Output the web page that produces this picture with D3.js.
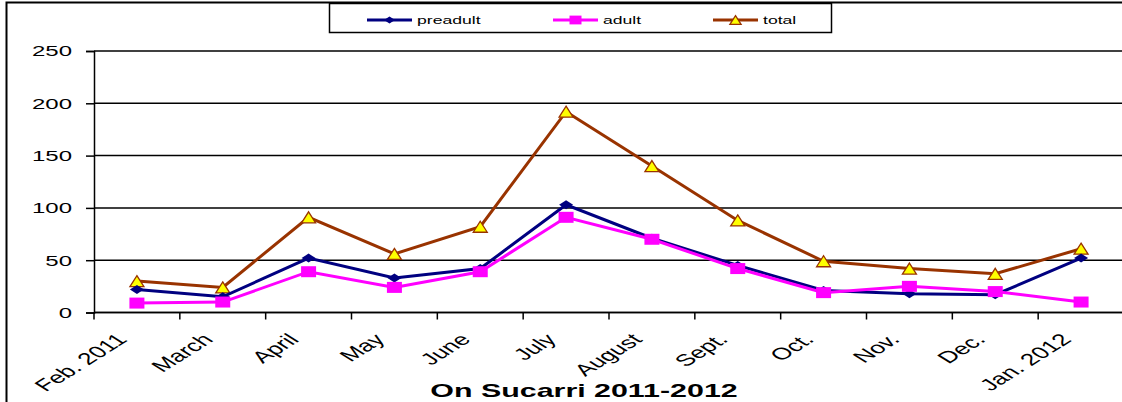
<!DOCTYPE html>
<html>
<head>
<meta charset="utf-8">
<script src="https://cdn.jsdelivr.net/npm/d3@7"></script>
<style>
  body { margin: 0; background: #fff; }
  svg { display: block; font-family: "Liberation Sans", Arial, sans-serif; }
</style>
</head>
<body>
<div id="chart"></div>
<script>
"use strict"

// data
let months = ["Feb. 2011", "March", "April", "May", "June", "July", "August", "Sept.", "Oct.", "Nov.", "Dec.", "Jan. 2012"];
let preadult = [22, 15, 52, 33, 42, 103, 71, 45, 21, 18, 17, 52];
let adult = [9, 10, 39, 24, 39, 91, 70, 42, 19, 25, 20, 10];
let total = [30, 24, 91, 56, 82, 192, 140, 88, 49, 42, 37, 61];
let yTicks = [0, 50, 100, 150, 200, 250];

var width = 1122,
    height = 402,
    margin = { top: 51, right: -2, bottom: 90, left: 94 },
    stretch = 1.6;   // the original picture is stretched sideways

var svg = d3.select("#chart")
    .append("svg")
    .attr("width", width)
    .attr("height", height);

// outer frame
svg.append("path")
    .attr("d", "M6.5," + height + "V2.5H" + width)
    .attr("fill", "none")
    .attr("stroke", "#000")
    .attr("stroke-width", 2);

var x = d3.scaleBand()
    .domain(months)
    .range([margin.left, width - margin.right]);

var y = d3.scaleLinear()
    .domain([0, 250])
    .range([height - margin.bottom + 0.5, margin.top]);

// grid lines
svg.append("g")
    .selectAll("line")
    .data(yTicks)
    .enter()
    .append("line")
    .attr("x1", margin.left)
    .attr("x2", width)
    .attr("y1", function (d) { return y(d); })
    .attr("y2", function (d) { return y(d); })
    .attr("stroke", "#000")
    .attr("stroke-width", 1.5);

// y axis
var yAxis = svg.append("g")
    .attr("transform", "translate(" + margin.left + ",0)")
    .call(d3.axisLeft(y).tickValues(yTicks).tickSize(8).tickFormat(""));
yAxis.select(".domain").attr("stroke-width", 1.5);
yAxis.selectAll(".tick line").attr("stroke-width", 1.5);
svg.append("g")
    .selectAll("text")
    .data(yTicks)
    .enter()
    .append("text")
    .attr("transform", function (d) { return "translate(72," + y(d) + ") scale(" + stretch + ",1)"; })
    .attr("text-anchor", "end")
    .attr("dy", "0.36em")
    .style("font-size", "15px")
    .text(function (d) { return d; });

// x axis with ticks on band edges
var xAxis = svg.append("g")
    .attr("transform", "translate(0," + y(0) + ")");
xAxis.append("line")
    .attr("x1", margin.left)
    .attr("x2", width)
    .attr("stroke", "#000")
    .attr("stroke-width", 1.5);
xAxis.selectAll("line.tk")
    .data(months)
    .enter()
    .append("line")
    .attr("class", "tk")
    .attr("x1", function (d) { return x(d); })
    .attr("x2", function (d) { return x(d); })
    .attr("y1", 0)
    .attr("y2", 7)
    .attr("stroke", "#000")
    .attr("stroke-width", 1.5);
xAxis.selectAll("text")
    .data(months)
    .enter()
    .append("text")
    .attr("transform", function (d) {
        return "translate(" + (x(d) + x.bandwidth() / 2 - 15) + ",24) scale(" + stretch + ",1) rotate(-45)";
    })
    .attr("text-anchor", "end")
    .attr("dy", "0.35em")
    .style("font-size", "16.5px")
    .text(function (d) { return d; });

// title
svg.append("text")
    .attr("transform", "translate(584,397) scale(" + stretch + ",1)")
    .attr("text-anchor", "middle")
    .style("font-size", "19px")
    .style("font-weight", "bold")
    .text("On Sucarri 2011-2012");

var series = [
    { name: "total", values: total, color: "#993300", shape: "triangle" },
    { name: "preadult", values: preadult, color: "#000080", shape: "diamond" },
    { name: "adult", values: adult, color: "#ff00ff", shape: "square" }
];

var cx = function (i) { return x(months[i]) + x.bandwidth() / 2; };

var line = d3.line()
    .x(function (d, i) { return cx(i); })
    .y(function (d) { return y(d); });

// marker outlines, half width / half height
var shapes = {
    diamond: function (w, h) { return "M" + (-w) + ",0L0," + (-h) + "L" + w + ",0L0," + h + "Z"; },
    square: function (w, h) { return "M" + (-w) + "," + (-h) + "H" + w + "V" + h + "H" + (-w) + "Z"; },
    triangle: function (w, h) { return "M0," + (-h) + "L" + w + "," + h + "H" + (-w) + "Z"; }
};
var shapeSize = {
    diamond: [7, 4.5],
    square: [7.5, 5.5],
    triangle: [7, 5.5]
};

function drawMarker(g, shape, color, px, py, k) {
    k = k || 1;
    var sz = shapeSize[shape];
    var p = g.append("path")
        .attr("d", shapes[shape](sz[0] * k, sz[1] * k))
        .attr("transform", "translate(" + px + "," + py + ")");
    if (shape == "triangle") {
        p.attr("fill", "#ffff00")
            .attr("stroke", color)
            .attr("stroke-width", 1.3);
    } else {
        p.attr("fill", color);
    }
}

series.forEach(function (s) {
    var g = svg.append("g");
    g.append("path")
        .datum(s.values)
        .attr("d", line)
        .attr("fill", "none")
        .attr("stroke", s.color)
        .attr("stroke-width", 3);
    s.values.forEach(function (v, i) {
        drawMarker(g, s.shape, s.color, cx(i), y(v));
    });
});

// legend
var legend = svg.append("g");
legend.append("rect")
    .attr("x", 329.5)
    .attr("y", 3.5)
    .attr("width", 502)
    .attr("height", 29)
    .attr("fill", "#fff")
    .attr("stroke", "#000")
    .attr("stroke-width", 1.5);

var legendItems = [
    { name: "preadult", color: "#000080", shape: "diamond", x: 367 },
    { name: "adult", color: "#ff00ff", shape: "square", x: 553 },
    { name: "total", color: "#993300", shape: "triangle", x: 713 }
];
legendItems.forEach(function (d) {
    legend.append("line")
        .attr("x1", d.x)
        .attr("x2", d.x + 45)
        .attr("y1", 20)
        .attr("y2", 20)
        .attr("stroke", d.color)
        .attr("stroke-width", 3);
    drawMarker(legend, d.shape, d.color, d.x + 22.5, 20, 0.8);
    legend.append("text")
        .attr("transform", "translate(" + (d.x + 50) + ",20) scale(" + stretch + ",1)")
        .attr("dy", "0.35em")
        .style("font-size", "11px")
        .text(d.name);
});
</script>
</body>
</html>
